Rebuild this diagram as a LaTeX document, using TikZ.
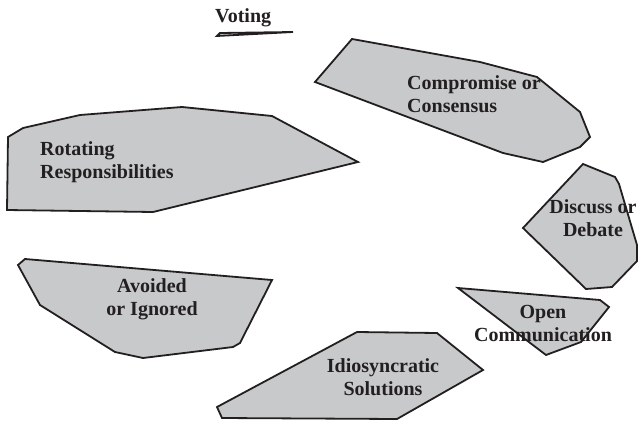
\documentclass[tikz,border=0pt]{standalone}
\usepackage{fontspec}
\setmainfont{Liberation Serif}
\definecolor{zonegray}{RGB}{200,201,203}
\definecolor{inkgray}{RGB}{35,31,32}

\begin{document}
\begin{tikzpicture}[x=1pt, y=-1pt,
  zone/.style={fill=zonegray},
  rim/.style={draw=inkgray, line width=1.8pt},
  lbl/.style={font=\bfseries\fontsize{20}{23}\selectfont, text=inkgray, inner sep=0pt}]
\useasboundingbox (0,0) rectangle (639,423);

% Region outlines
\def\votingzone{(217,36) -- (220,33) -- (293,32) -- cycle}
\def\compromisezone{(352,39) -- (480,62) -- (537,77) -- (580,112) -- (590,137) -- (580,147) -- (543,162) -- (503,153) -- (315,82) -- cycle}
\def\rotatingzone{(8,137) -- (23,128) -- (80,115) -- (182,107) -- (272,116) -- (358,162) -- (153,212) -- (7,210) -- cycle}
\def\discusszone{(583,164) -- (615,177) -- (619,184) -- (637,245) -- (637,261) -- (612,287) -- (586,289) -- (523,228) -- cycle}
\def\avoidedzone{(18,265) -- (25,259) -- (272,280) -- (240,343) -- (233,347) -- (143,358) -- (115,352) -- (40,305) -- cycle}
\def\idiozone{(357,332) -- (437,333) -- (483,370) -- (397,419) -- (222,418) -- (217,407) -- cycle}
\def\openzone{(458,288) -- (600,300) -- (609,307) -- (581,342) -- (546,355) -- cycle}

\fill[zone] \votingzone;
\fill[zone] \compromisezone;
\fill[zone] \rotatingzone;
\fill[zone] \discusszone;
\fill[zone] \avoidedzone;
\fill[zone] \idiozone;
\fill[zone] \openzone;

% Labels (base = baseline of the last line)
\node[lbl, anchor=base west] (voting) at (215,22) {Voting};
\node[lbl, anchor=base west, align=left] (compromise) at (407,112) {Compromise or\\Consensus};
\node[lbl, anchor=base west, align=left] (rotating) at (40,178) {Rotating\\Responsibilities};
\node[lbl, anchor=base, align=center] (discuss) at (593,236) {Discuss or\\Debate};
\node[lbl, anchor=base, align=center] (avoided) at (152,315) {Avoided\\or Ignored};
\node[lbl, anchor=base, align=center] (idio) at (383,395) {Idiosyncratic\\Solutions};
\node[lbl, anchor=base, align=center] (open) at (543,341) {Open\\Communication};

% Outlines drawn over the labels
\draw[rim] \votingzone;
\draw[rim] \compromisezone;
\draw[rim] \rotatingzone;
\draw[rim] \discusszone;
\draw[rim] \avoidedzone;
\draw[rim] \idiozone;
\draw[rim] \openzone;
\end{tikzpicture}
\end{document}
